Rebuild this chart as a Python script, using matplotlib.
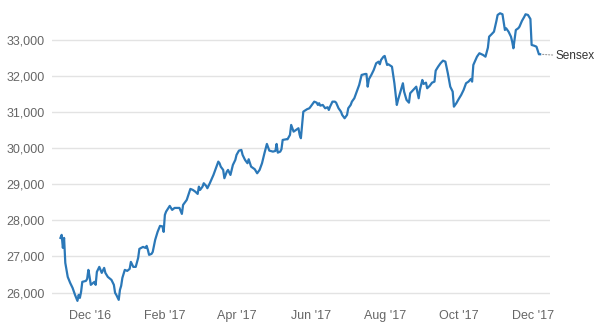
import matplotlib.pyplot as plt
import matplotlib.dates as mdates
import pandas as pd

plt.rcParams['font.family'] = ['Liberation Sans', 'DejaVu Sans']

dates = [
    '2016-11-07', '2016-11-08', '2016-11-09', '2016-11-10', '2016-11-11', '2016-11-13',
    '2016-11-15', '2016-11-17', '2016-11-19', '2016-11-21', '2016-11-22', '2016-11-23',
    '2016-11-24', '2016-11-25', '2016-11-28', '2016-11-29', '2016-11-30', '2016-12-01',
    '2016-12-02', '2016-12-04', '2016-12-05', '2016-12-06', '2016-12-07', '2016-12-09',
    '2016-12-10', '2016-12-11', '2016-12-13', '2016-12-14', '2016-12-16', '2016-12-19',
    '2016-12-21', '2016-12-22', '2016-12-23', '2016-12-25', '2016-12-26', '2016-12-27',
    '2016-12-28', '2016-12-30', '2017-01-01', '2017-01-03', '2017-01-04', '2017-01-06',
    '2017-01-08', '2017-01-10', '2017-01-11', '2017-01-14', '2017-01-16', '2017-01-17',
    '2017-01-18', '2017-01-19', '2017-01-21', '2017-01-22', '2017-01-24', '2017-01-26',
    '2017-01-28', '2017-01-30', '2017-01-31', '2017-02-01', '2017-02-02', '2017-02-04',
    '2017-02-05', '2017-02-07', '2017-02-09', '2017-02-13', '2017-02-15', '2017-02-16',
    '2017-02-19', '2017-02-21', '2017-02-22', '2017-02-24', '2017-02-26', '2017-02-28',
    '2017-03-01', '2017-03-02', '2017-03-04', '2017-03-05', '2017-03-07', '2017-03-08',
    '2017-03-10', '2017-03-13', '2017-03-15', '2017-03-17', '2017-03-18', '2017-03-19',
    '2017-03-21', '2017-03-22', '2017-03-24', '2017-03-25', '2017-03-27', '2017-03-29',
    '2017-03-31', '2017-04-01', '2017-04-03', '2017-04-05', '2017-04-06', '2017-04-08',
    '2017-04-10', '2017-04-11', '2017-04-13', '2017-04-16', '2017-04-18', '2017-04-20',
    '2017-04-22', '2017-04-24', '2017-04-26', '2017-04-27', '2017-04-28', '2017-05-01',
    '2017-05-03', '2017-05-04', '2017-05-05', '2017-05-07', '2017-05-08', '2017-05-09',
    '2017-05-12', '2017-05-13', '2017-05-15', '2017-05-16', '2017-05-18', '2017-05-20',
    '2017-05-22', '2017-05-23', '2017-05-24', '2017-05-25', '2017-05-26', '2017-05-29',
    '2017-05-31', '2017-06-01', '2017-06-03', '2017-06-04', '2017-06-06', '2017-06-07',
    '2017-06-08', '2017-06-09', '2017-06-11', '2017-06-13', '2017-06-15', '2017-06-16',
    '2017-06-17', '2017-06-19', '2017-06-21', '2017-06-22', '2017-06-24', '2017-06-26',
    '2017-06-27', '2017-06-29', '2017-07-01', '2017-07-02', '2017-07-04', '2017-07-05',
    '2017-07-07', '2017-07-09', '2017-07-11', '2017-07-13', '2017-07-16', '2017-07-17',
    '2017-07-18', '2017-07-19', '2017-07-21', '2017-07-23', '2017-07-25', '2017-07-27',
    '2017-07-28', '2017-07-29', '2017-07-31', '2017-08-01', '2017-08-03', '2017-08-04',
    '2017-08-07', '2017-08-09', '2017-08-11', '2017-08-12', '2017-08-14', '2017-08-16',
    '2017-08-17', '2017-08-19', '2017-08-21', '2017-08-22', '2017-08-24', '2017-08-27',
    '2017-08-29', '2017-08-30', '2017-09-01', '2017-09-02', '2017-09-04', '2017-09-05',
    '2017-09-07', '2017-09-09', '2017-09-11', '2017-09-12', '2017-09-14', '2017-09-16',
    '2017-09-18', '2017-09-20', '2017-09-22', '2017-09-23', '2017-09-24', '2017-09-26',
    '2017-09-27', '2017-09-29', '2017-10-01', '2017-10-03', '2017-10-05', '2017-10-07',
    '2017-10-09', '2017-10-11', '2017-10-12', '2017-10-13', '2017-10-16', '2017-10-18',
    '2017-10-21', '2017-10-23', '2017-10-25', '2017-10-26', '2017-10-28', '2017-10-30',
    '2017-11-01', '2017-11-02', '2017-11-04', '2017-11-06', '2017-11-08', '2017-11-09',
    '2017-11-11', '2017-11-13', '2017-11-14', '2017-11-15', '2017-11-17', '2017-11-19',
    '2017-11-20', '2017-11-22', '2017-11-24', '2017-11-25', '2017-11-27', '2017-11-29',
    '2017-11-30', '2017-12-02', '2017-12-04', '2017-12-06', '2017-12-07',
]

sensex = [
    27515, 27600, 27240, 27515, 26823, 26435,
    26269, 26130, 25937, 25770, 25937, 25853,
    26020, 26297, 26324, 26380, 26629, 26435,
    26214, 26269, 26297, 26214, 26574, 26712,
    26629, 26546, 26684, 26546, 26435, 26352,
    26214, 25992, 25937, 25798, 26075, 26186,
    26407, 26629, 26601, 26657, 26851, 26712,
    26712, 26961, 27211, 27266, 27238, 27294,
    27183, 27045, 27072, 27128, 27460, 27682,
    27848, 27834, 27682, 28153, 28244, 28346,
    28402, 28291, 28346, 28346, 28180, 28430,
    28568, 28770, 28873, 28845, 28798, 28734,
    28936, 28845, 28936, 29030, 28956, 28892,
    29030, 29260, 29446, 29629, 29585, 29490,
    29399, 29169, 29352, 29399, 29260, 29537,
    29676, 29815, 29934, 29953, 29815, 29676,
    29585, 29695, 29490, 29418, 29306, 29399,
    29585, 29862, 30119, 30028, 29934, 29906,
    29925, 30119, 29878, 29906, 29972, 30230,
    30249, 30249, 30369, 30646, 30460, 30507,
    30554, 30369, 30277, 30646, 31014, 31080,
    31108, 31152, 31247, 31291, 31263, 31200,
    31247, 31180, 31200, 31108, 31136, 31061,
    31152, 31291, 31291, 31263, 31108, 31014,
    30923, 30831, 30923, 31108, 31200, 31291,
    31385, 31568, 31754, 32031, 32058, 32058,
    31706, 31911, 32031, 32169, 32355, 32399,
    32327, 32446, 32537, 32557, 32308, 32327,
    32260, 31801, 31200, 31338, 31568, 31801,
    31568, 31338, 31263, 31524, 31596, 31706,
    31385, 31615, 31892, 31781, 31817, 31662,
    31726, 31817, 31845, 32150, 32260, 32355,
    32427, 32399, 32078, 31892, 31706, 31568,
    31152, 31247, 31366, 31477, 31615, 31801,
    31845, 31920, 31845, 32308, 32537, 32632,
    32585, 32537, 32787, 33091, 33158, 33230,
    33526, 33693, 33740, 33712, 33277, 33324,
    33230, 33091, 32953, 32770, 33277, 33324,
    33368, 33526, 33645, 33712, 33693, 33582,
    32862, 32842, 32814, 32604, 32604,
]

y_ticks = [26000, 27000, 28000, 29000, 30000, 31000, 32000, 33000]
x_ticks = ['2016-12-01', '2017-02-01', '2017-04-01', '2017-06-01',
           '2017-08-01', '2017-10-01', '2017-12-01']


def main():
    x = pd.to_datetime(dates)
    fig = plt.figure(figsize=(5.97, 3.31), dpi=100)
    ax = fig.add_axes([0.087, 0.085, 0.834, 0.9])

    ax.plot(x, sensex, color='#2b78b8', lw=1.6, solid_joinstyle='round')

    ax.set_xlim(pd.Timestamp('2016-10-31'), pd.Timestamp('2017-12-15'))
    ax.set_ylim(25715, 33970)
    ax.set_yticks(y_ticks)
    ax.set_yticklabels([f'{v:,}' for v in y_ticks])
    ax.set_xticks(pd.to_datetime(x_ticks))
    ax.xaxis.set_major_formatter(mdates.DateFormatter("%b '%y"))

    ax.grid(axis='y', color='#e3e3e3', lw=1)
    ax.set_axisbelow(True)
    for s in ax.spines.values():
        s.set_visible(False)
    ax.tick_params(length=0, labelsize=9, colors='#666666')
    ax.tick_params(axis='y', pad=5)
    ax.tick_params(axis='x', pad=5)

    # series label at the end of the line
    ax.annotate('Sensex', xy=(x[-1], sensex[-1]), xytext=(11, -1.5),
                textcoords='offset points', va='center', ha='left',
                fontsize=8.5, color='#333333', annotation_clip=False,
                arrowprops=dict(arrowstyle='-', color='#999999', lw=0.8,
                                linestyle=':', shrinkA=0, shrinkB=1))

    plt.savefig('out.png', dpi=100)


if __name__ == '__main__':
    main()
